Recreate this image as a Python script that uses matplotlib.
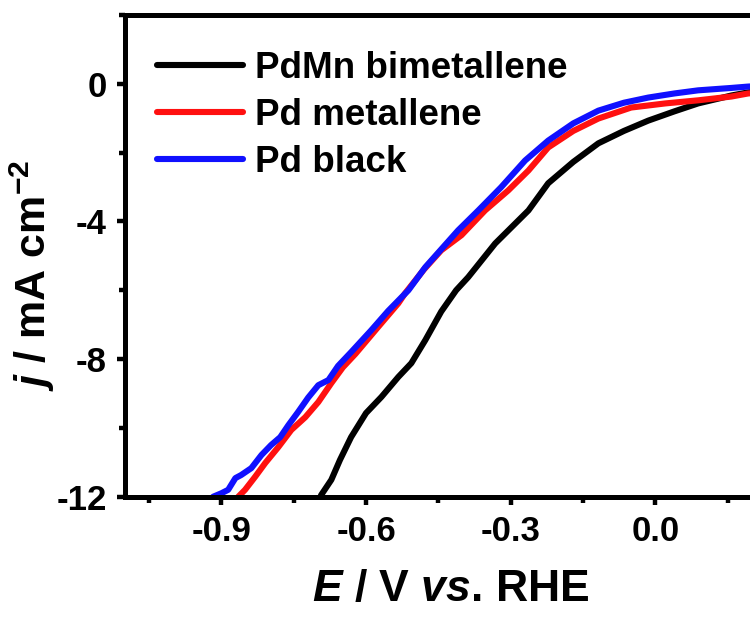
import matplotlib

matplotlib.use("Agg")
import matplotlib.pyplot as plt
from matplotlib.ticker import MultipleLocator

# LSV curves (E in V vs. RHE, j in mA cm^-2)
pdmn_E = [-0.700, -0.693, -0.672, -0.654, -0.631, -0.600, -0.568, -0.533, -0.506,
          -0.477, -0.444, -0.413, -0.388, -0.332, -0.263, -0.222, -0.170, -0.118,
          -0.065, -0.0145, 0.040, 0.089, 0.158, 0.193, 0.25]
pdmn_j = [-12.2, -11.95, -11.51, -10.93, -10.27, -9.57, -9.10, -8.52, -8.12,
          -7.45, -6.62, -6.00, -5.62, -4.64, -3.68, -2.89, -2.27, -1.73,
          -1.37, -1.07, -0.80, -0.57, -0.34, -0.25, -0.16]

pd_met_E = [-0.872, -0.865, -0.851, -0.830, -0.809, -0.782, -0.755, -0.726, -0.699,
            -0.672, -0.648, -0.622, -0.575, -0.533, -0.519, -0.480, -0.444, -0.402,
            -0.353, -0.305, -0.263, -0.222, -0.170, -0.118, -0.050, 0.021, 0.089,
            0.158, 0.193, 0.25]
pd_met_j = [-12.2, -12.0, -11.8, -11.42, -11.02, -10.56, -10.06, -9.69, -9.25,
            -8.70, -8.24, -7.85, -7.07, -6.38, -6.09, -5.40, -4.84, -4.40,
            -3.68, -3.10, -2.52, -1.85, -1.37, -1.01, -0.69, -0.57, -0.48,
            -0.37, -0.28, -0.22]

pd_black_E = [-0.925, -0.917, -0.900, -0.886, -0.871, -0.859, -0.838, -0.817, -0.797,
              -0.778, -0.761, -0.741, -0.720, -0.699, -0.678, -0.658, -0.631, -0.589,
              -0.554, -0.512, -0.477, -0.409, -0.367, -0.320, -0.270, -0.222, -0.170,
              -0.118, -0.065, -0.0145, 0.040, 0.089, 0.158, 0.193, 0.25]
pd_black_j = [-12.2, -12.0, -11.9, -11.8, -11.46, -11.37, -11.17, -10.79, -10.50,
              -10.27, -9.92, -9.54, -9.12, -8.76, -8.61, -8.20, -7.80, -7.16,
              -6.60, -6.00, -5.33, -4.26, -3.68, -3.01, -2.23, -1.65, -1.15,
              -0.78, -0.55, -0.40, -0.28, -0.19, -0.12, -0.08, -0.04]

series = [
    ("PdMn bimetallene", pdmn_E, pdmn_j, "#000000"),
    ("Pd metallene", pd_met_E, pd_met_j, "#ff1010"),
    ("Pd black", pd_black_E, pd_black_j, "#1010ff"),
]

plt.rcParams["font.family"] = ["Liberation Sans", "DejaVu Sans"]
plt.rcParams["font.weight"] = "bold"
plt.rcParams["axes.unicode_minus"] = False
plt.rcParams["mathtext.fontset"] = "custom"
plt.rcParams["mathtext.rm"] = "Liberation Sans:bold"
plt.rcParams["mathtext.it"] = "Liberation Sans:bold:italic"
plt.rcParams["mathtext.bf"] = "Liberation Sans:bold"

fig = plt.figure(figsize=(7.5, 6.17), dpi=100)
ax = fig.add_axes([0.1667, 0.195, 0.8676, 0.7807])

for label, e, j, color in series:
    ax.plot(e, j, color=color, lw=4.4, label=label, solid_capstyle="round")

ax.set_xlim(-1.1, 0.25)
ax.set_ylim(-12, 2)
ax.xaxis.set_minor_locator(MultipleLocator(0.15))
ax.yaxis.set_minor_locator(MultipleLocator(2))
ax.set_xticks([-0.9, -0.6, -0.3, 0.0])
ax.set_xticklabels(["-0.9", "-0.6", "-0.3", "0.0"])
ax.set_yticks([0, -4, -8, -12])
ax.set_yticklabels(["0", "-4", "-8", "-12"])

for s in ax.spines.values():
    s.set_linewidth(3.6)
ax.tick_params(which="major", direction="out", length=6, width=3.2,
               labelsize=25, pad=7, top=False, right=False)
ax.tick_params(which="minor", direction="out", length=4, width=3.2,
               top=False, right=False)

ax.set_xlabel(r"$\mathit{E}$ / V $\mathit{vs}$. RHE", fontsize=32,
              fontweight="bold", labelpad=15)
ax.set_ylabel(r"$\mathit{j}$ / mA cm$^{\mathregular{-2}}$", fontsize=31,
              fontweight="bold")
ax.yaxis.set_label_coords(-0.104, 0.46)

ax.legend(loc="upper left", bbox_to_anchor=(0.049, 0.926), frameon=False,
          fontsize=26.5, handlelength=2.34, handletextpad=0.33, labelspacing=0.33,
          borderaxespad=0, borderpad=0)

fig.savefig("out.png", dpi=100)
